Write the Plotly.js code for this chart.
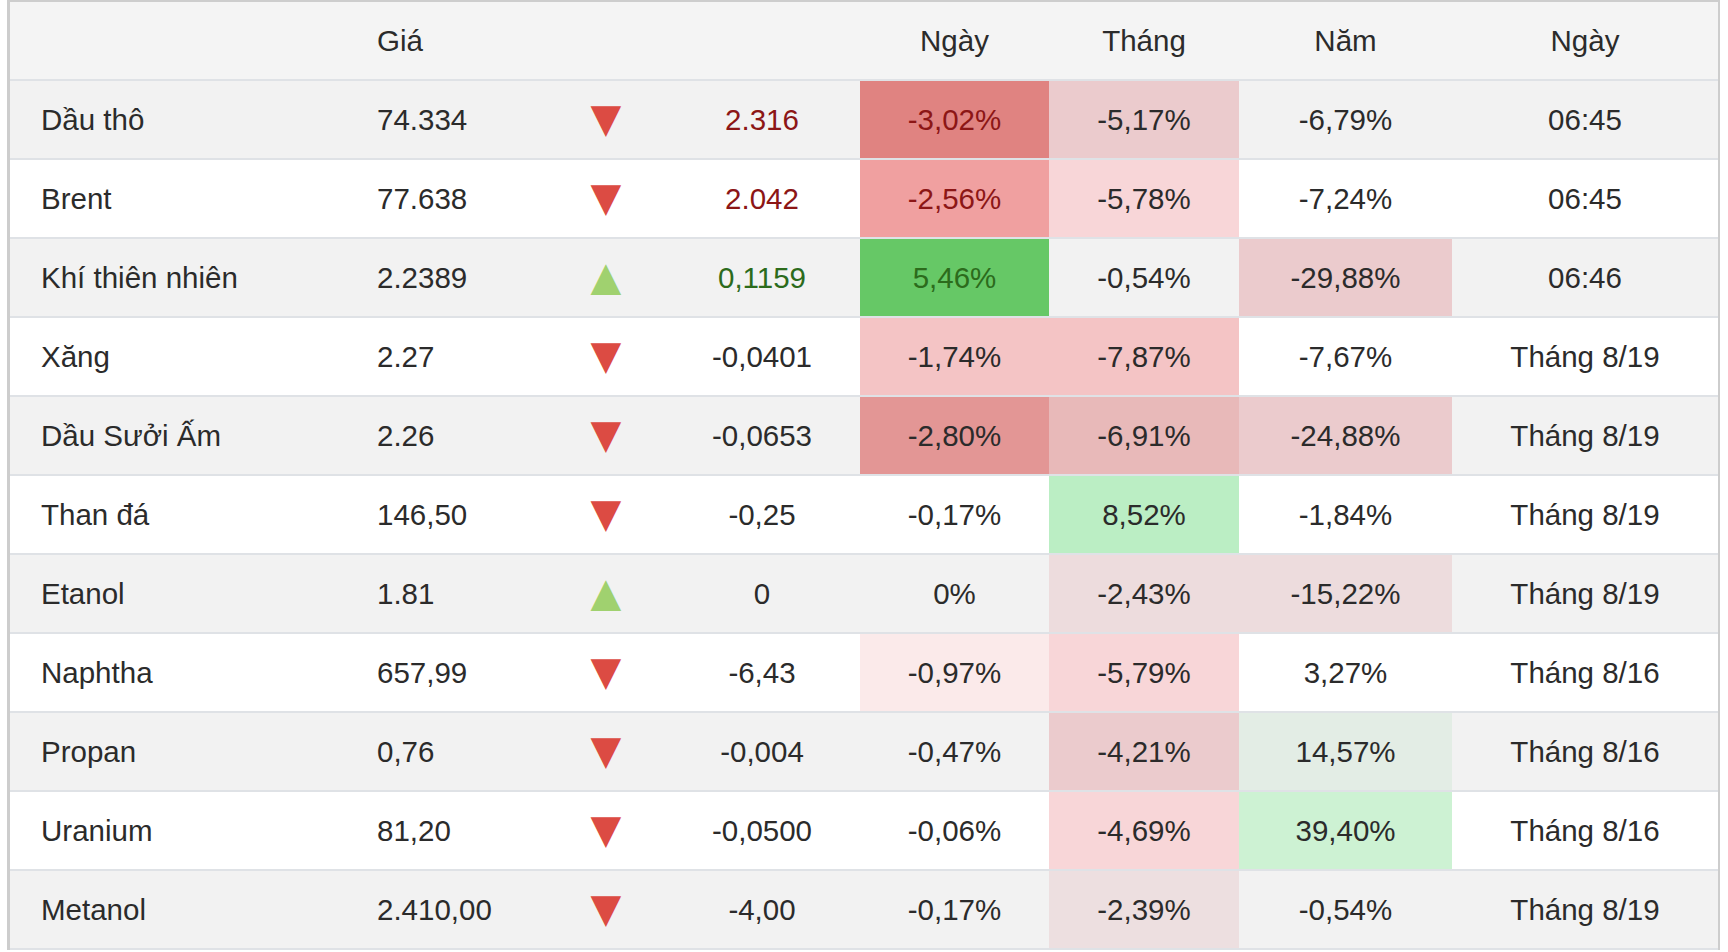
<!DOCTYPE html>
<html>
<head>
<meta charset="utf-8">
<script src="https://cdn.plot.ly/plotly-3.0.1.min.js"></script>
<style>
  html, body { margin: 0; padding: 0; background: #ffffff; overflow: hidden; }
  #chart { width: 1728px; height: 952px; }
</style>
</head>
<body>
<div id="chart"></div>
<script>
// ---------------- data ----------------
const headers = ['', 'Giá', '', '', 'Ngày', 'Tháng', 'Năm', 'Ngày'];
const names = ['Dầu thô', 'Brent', 'Khí thiên nhiên', 'Xăng', 'Dầu Sưởi Ấm', 'Than đá',
               'Etanol', 'Naphtha', 'Propan', 'Uranium', 'Metanol'];
const prices = ['74.334', '77.638', '2.2389', '2.27', '2.26', '146,50',
                '1.81', '657,99', '0,76', '81,20', '2.410,00'];
const directions = ['down', 'down', 'up', 'down', 'down', 'down',
                    'up', 'down', 'down', 'down', 'down'];
const changes = ['2.316', '2.042', '0,1159', '-0,0401', '-0,0653', '-0,25',
                 '0', '-6,43', '-0,004', '-0,0500', '-4,00'];
const dayPct = ['-3,02%', '-2,56%', '5,46%', '-1,74%', '-2,80%', '-0,17%',
                '0%', '-0,97%', '-0,47%', '-0,06%', '-0,17%'];
const monthPct = ['-5,17%', '-5,78%', '-0,54%', '-7,87%', '-6,91%', '8,52%',
                  '-2,43%', '-5,79%', '-4,21%', '-4,69%', '-2,39%'];
const yearPct = ['-6,79%', '-7,24%', '-29,88%', '-7,67%', '-24,88%', '-1,84%',
                 '-15,22%', '3,27%', '14,57%', '39,40%', '-0,54%'];
const times = ['06:45', '06:45', '06:46', 'Tháng 8/19', 'Tháng 8/19', 'Tháng 8/19',
               'Tháng 8/19', 'Tháng 8/16', 'Tháng 8/16', 'Tháng 8/16', 'Tháng 8/19'];

// ---------------- styles ----------------
const TEXT = '#2b2b2b';
const NEG_TEXT = '#8c1616';
const POS_TEXT = '#2c6b1c';
const changeTextColor = [NEG_TEXT, NEG_TEXT, POS_TEXT, TEXT, TEXT, TEXT, TEXT, TEXT, TEXT, TEXT, TEXT];
const dayTextColor    = [NEG_TEXT, NEG_TEXT, POS_TEXT, TEXT, TEXT, TEXT, TEXT, TEXT, TEXT, TEXT, TEXT];
const arrowColor = { down: '#dc4b43', up: '#a0d16f' };
const arrowGlyph = { down: '▼', up: '▲' };

const HEADER_BG = '#f4f4f4';
const STRIPE_BG = '#f2f2f2';
const PLAIN_BG = '#ffffff';
const dayBg   = ['#e08381', '#f0a0a0', '#66c866', '#f4c4c5', '#e39695', null, null, '#fbeaea', null, null, null];
const monthBg = ['#ebcbcd', '#f8d6d8', null, '#f4c4c5', '#e8b9b9', '#bbeec4', '#eddcdd', '#f8d6d8', '#ebcbcd', '#f8d6d8', '#eddfe0'];
const yearBg  = [null, null, '#ebcbcd', null, '#ebcbcd', null, '#eddcdd', null, '#e3ede5', '#cdf2d3', null];

const FONT = '"Liberation Sans", Arial, Helvetica, sans-serif';
const FONT_SIZE = 29.5;
const LINE_COLOR = '#dfe2e6';
const BORDER_COLOR = '#cdcdcd';

// layout geometry (page pixels)
const W = 1728, H = 952;
const colEdges = [10, 346, 548, 664, 860, 1049, 1239, 1452, 1718];
const leftPad = 31;
const TEXT_DY = 0.035;   // small downward nudge of text within a row (in row units)
const M = { l: 10, r: 10, t: 1, b: 3 };

// ---------------- build ----------------
const nRows = names.length + 1; // header + data
const rowIdx = Array.from({ length: nRows }, (_, i) => i);

// background colour for each cell
function bgFor(r, c) {
  if (r === 0) return HEADER_BG;
  const d = r - 1;
  const base = d % 2 === 0 ? STRIPE_BG : PLAIN_BG;
  if (c === 4 && dayBg[d]) return dayBg[d];
  if (c === 5 && monthBg[d]) return monthBg[d];
  if (c === 6 && yearBg[d]) return yearBg[d];
  return base;
}
const palette = [];
const z = rowIdx.map(r => colEdges.slice(0, -1).map((_, c) => {
  const col = bgFor(r, c);
  let k = palette.indexOf(col);
  if (k < 0) { palette.push(col); k = palette.length - 1; }
  return k;
}));
const K = palette.length;
const colorscale = palette.map((col, i) => [i / (K - 1), col]);

const cellTrace = {
  type: 'heatmap',
  x: colEdges,
  y: rowIdx,
  z: z,
  zmin: 0, zmax: K - 1,
  colorscale: colorscale,
  showscale: false,
  xgap: 0, ygap: 2,
  hoverinfo: 'skip'
};

function center(c) { return (colEdges[c] + colEdges[c + 1]) / 2; }

function textTrace(c, texts, colors, leftAligned, font) {
  const f = font || {};
  const xpos = leftAligned ? colEdges[c] + leftPad : center(c);
  return {
    type: 'scatter',
    mode: 'text',
    x: texts.map(() => xpos),
    y: texts.map((_, i) => i + TEXT_DY),
    text: texts,
    textposition: leftAligned ? 'middle right' : 'middle center',
    textfont: { family: f.family || FONT, size: f.size || FONT_SIZE, color: colors },
    hoverinfo: 'skip',
    showlegend: false,
    cliponaxis: false
  };
}

const plainColors = rowIdx.map(() => TEXT);
const traces = [
  cellTrace,
  textTrace(0, [headers[0]].concat(names), plainColors, true),
  textTrace(1, [headers[1]].concat(prices), plainColors, true),
  textTrace(2, [headers[2]].concat(directions.map(d => arrowGlyph[d])),
            [TEXT].concat(directions.map(d => arrowColor[d])), false,
            { family: '"DejaVu Sans", sans-serif', size: 40 }),
  textTrace(3, [headers[3]].concat(changes), [TEXT].concat(changeTextColor), false),
  textTrace(4, [headers[4]].concat(dayPct), [TEXT].concat(dayTextColor), false),
  textTrace(5, [headers[5]].concat(monthPct), plainColors, false),
  textTrace(6, [headers[6]].concat(yearPct), plainColors, false),
  textTrace(7, [headers[7]].concat(times), plainColors, false)
];

// page-pixel rectangle -> paper coordinates
const pw = W - M.l - M.r, ph = H - M.t - M.b;
function pxRect(x0, y0, x1, y1, color) {
  return {
    type: 'rect', xref: 'paper', yref: 'paper', layer: 'above',
    x0: (x0 - M.l) / pw, x1: (x1 - M.l) / pw,
    y0: (H - M.b - y1) / ph, y1: (H - M.b - y0) / ph,
    fillcolor: color, line: { width: 0 }
  };
}
const shapes = [
  pxRect(7, 0, 1720, 2, BORDER_COLOR),          // top border
  pxRect(7, 0, 10, 950, BORDER_COLOR),          // left border
  pxRect(1718, 0, 1720, 950, BORDER_COLOR),     // right border
  pxRect(10, 948, 1718, 950, LINE_COLOR)        // bottom rule
];

const layout = {
  width: W, height: H,
  margin: { l: M.l, r: M.r, t: M.t, b: M.b, pad: 0 },
  paper_bgcolor: '#ffffff',
  plot_bgcolor: LINE_COLOR,
  showlegend: false,
  xaxis: { range: [colEdges[0], colEdges[colEdges.length - 1]], visible: false, fixedrange: true },
  yaxis: { range: [nRows - 0.5, -0.5], visible: false, fixedrange: true },
  shapes: shapes,
  font: { family: FONT, size: FONT_SIZE, color: TEXT }
};

Plotly.newPlot('chart', traces, layout, { displayModeBar: false, staticPlot: true });
</script>
</body>
</html>
